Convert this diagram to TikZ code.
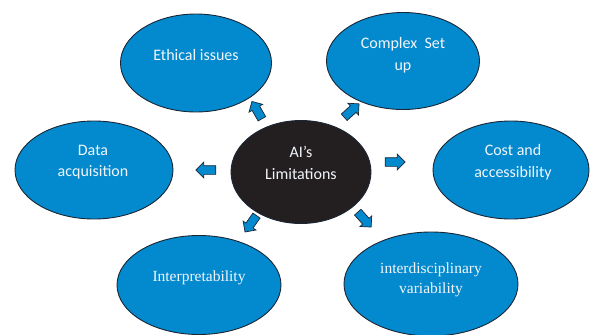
\documentclass[tikz,border=0pt]{standalone}
\usepackage{fontspec}
\setmainfont{Carlito}
\newfontfamily\serifface{Liberation Serif}
\usetikzlibrary{shapes.geometric,shapes.arrows}
\definecolor{bubble}{HTML}{0389CE}
\definecolor{rim}{HTML}{1B2634}
\definecolor{hub}{HTML}{231F20}
\definecolor{ink}{HTML}{F2F6FA}
\begin{document}
\begin{tikzpicture}[x=1pt,y=-1pt,
  bubblebox/.style={ellipse,draw=rim,line width=0.9pt,fill=bubble,inner sep=0pt},
  hubbox/.style={ellipse,draw=rim,line width=0.9pt,fill=hub,inner sep=0pt},
  caption/.style={text=ink,font=\fontsize{16}{21.5}\selectfont,align=center,inner sep=0pt},
  serifcaption/.style={caption,font=\serifface\fontsize{15.5}{20.5}\selectfont},
  blockarrow/.style={single arrow,draw=rim,line width=0.7pt,fill=bubble,
    minimum height=20pt,minimum width=15pt,single arrow head extend=3.5pt,
    inner xsep=0pt,inner ysep=4pt}]
\useasboundingbox (0,0) rectangle (590,335);
\clip (0,0) rectangle (590,335);

% central hub and the six surrounding bubbles
\node[hubbox,minimum width=140pt,minimum height=103pt] (hub) at (301,172) {};
\node[bubblebox,minimum width=151pt,minimum height=98pt] (ethics) at (196,63) {};
\node[bubblebox,minimum width=153pt,minimum height=97pt] (setup) at (403,61) {};
\node[bubblebox,minimum width=158pt,minimum height=98pt] (data) at (94,170) {};
\node[bubblebox,minimum width=156pt,minimum height=98pt] (cost) at (511,170) {};
\node[bubblebox,minimum width=164pt,minimum height=99pt] (interp) at (199,285) {};
\node[bubblebox,minimum width=174pt,minimum height=104pt] (inter) at (431,284) {};

% labels
\node[caption] (hubtext) at (301,163) {AI’s\\Limitations};
\node[caption] (ethicstext) at (196,55) {Ethical issues};
\node[caption] (setuptext) at (403,55) {Complex\ \ Set\\up};
\node[caption] (datatext) at (93,162) {Data\\acquisition};
\node[caption] (costtext) at (513,162) {Cost and\\accessibility};
\node[serifcaption] (interptext) at (199,278) {Interpretability};
\node[serifcaption] (intertext) at (431,280) {interdisciplinary\\variability};

% block arrows pointing from the hub to each bubble
\node[blockarrow,rotate=120] (toethics) at (258,112) {};
\node[blockarrow,rotate=42] (tosetup) at (350,112) {};
\node[blockarrow,rotate=0] (tocost) at (393,162) {};
\node[blockarrow,rotate=180] (todata) at (208,170) {};
\node[blockarrow,rotate=235] (tointerp) at (252,222) {};
\node[blockarrow,rotate=-48] (tointer) at (363,218) {};
\end{tikzpicture}
\end{document}
